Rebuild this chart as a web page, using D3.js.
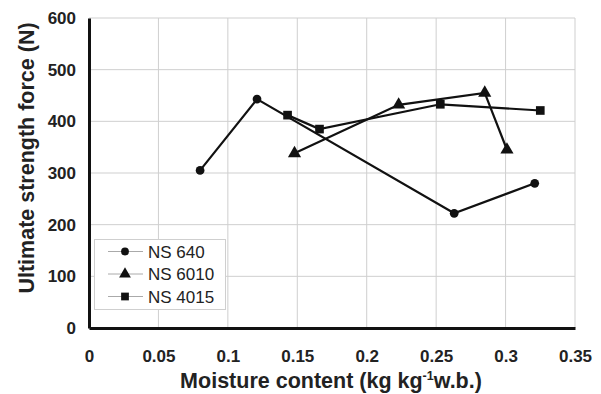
<!DOCTYPE html>
<html><head><meta charset="utf-8">
<script src="https://cdn.jsdelivr.net/npm/d3@7"></script>
<style>body{margin:0;background:#fff}svg{display:block;font-family:"Liberation Sans",Arial,sans-serif}</style>
</head><body><svg id="c" width="601" height="394"></svg>
<script>
const seriesNames = ["NS 640", "NS 6010", "NS 4015"];
const ns640X = [0.080, 0.121, 0.263, 0.321];
const ns640Y = [305, 443, 222, 280];
const ns6010X = [0.148, 0.223, 0.285, 0.301];
const ns6010Y = [338, 432, 455, 345];
const ns4015X = [0.143, 0.166, 0.253, 0.325];
const ns4015Y = [412, 385, 433, 421];
const xTicks = [0, 0.05, 0.1, 0.15, 0.2, 0.25, 0.3, 0.35];
const yTicks = [0, 100, 200, 300, 400, 500, 600];

const svg = d3.select("#c");
const L = 89, R = 575, T = 18, B = 328;
const x = d3.scaleLinear().domain([0, 0.35]).range([L, R]);
const y = d3.scaleLinear().domain([0, 600]).range([B, T]);

// gridlines
svg.append("g").selectAll("line").data(xTicks.slice(1)).join("line")
  .attr("x1", d => x(d)).attr("x2", d => x(d)).attr("y1", T).attr("y2", B)
  .attr("stroke", "#cfcfcf").attr("stroke-width", 1);
svg.append("g").selectAll("line").data(yTicks.slice(1)).join("line")
  .attr("x1", L).attr("x2", R).attr("y1", d => y(d)).attr("y2", d => y(d))
  .attr("stroke", "#cfcfcf").attr("stroke-width", 1);

// axes
const xAxis = d3.axisBottom(x).tickValues(xTicks).tickSize(0).tickPadding(22)
  .tickFormat(d => d3.format("~g")(d));
const gx = svg.append("g").attr("transform", `translate(0,${B})`).call(xAxis);
gx.select(".domain").attr("stroke", "#111").attr("stroke-width", 3);
gx.selectAll("text").attr("font-size", 17).attr("font-weight", "bold").attr("fill", "#222")
  .attr("font-family", "Liberation Sans, Arial, sans-serif");

const yAxis = d3.axisLeft(y).tickValues(yTicks).tickSize(0).tickPadding(13);
const gy = svg.append("g").attr("transform", `translate(${L},0)`).call(yAxis);
gy.select(".domain").attr("stroke", "#111").attr("stroke-width", 3);
gy.selectAll("text").attr("font-size", 17).attr("font-weight", "bold").attr("fill", "#222")
  .attr("font-family", "Liberation Sans, Arial, sans-serif");

// series
const series = [
  {name: seriesNames[0], xs: ns640X, ys: ns640Y, sym: d3.symbolCircle, size: 60},
  {name: seriesNames[1], xs: ns6010X, ys: ns6010Y, sym: d3.symbolTriangle, size: 75},
  {name: seriesNames[2], xs: ns4015X, ys: ns4015Y, sym: d3.symbolSquare, size: 75}
];
const line = d3.line().x(d => x(d[0])).y(d => y(d[1]));
series.forEach(s => {
  const pts = s.xs.map((v, i) => [v, s.ys[i]]);
  svg.append("path").datum(pts).attr("d", line).attr("fill", "none")
    .attr("stroke", "#111").attr("stroke-width", 2.2);
  svg.append("g").selectAll("path").data(pts).join("path")
    .attr("transform", d => `translate(${x(d[0])},${y(d[1])})`)
    .attr("d", d3.symbol().type(s.sym).size(s.size)).attr("fill", "#111");
});

// legend
const lg = svg.append("g");
lg.append("rect").attr("x", 94.5).attr("y", 239.5).attr("width", 131).attr("height", 70)
  .attr("fill", "#fff").attr("stroke", "#cfcfcf");
series.forEach((s, i) => {
  const yy = 251.5 + i * 22.5;
  lg.append("line").attr("x1", 108).attr("x2", 143).attr("y1", yy).attr("y2", yy)
    .attr("stroke", "#aaa").attr("stroke-width", 1);
  lg.append("path").attr("transform", `translate(125,${yy})`)
    .attr("d", d3.symbol().type(s.sym).size(s.size * 0.8)).attr("fill", "#111");
  lg.append("text").attr("x", 148).attr("y", yy + 6).attr("font-size", 17)
    .attr("fill", "#222").text(s.name);
});

// axis titles
svg.append("text").attr("transform", `translate(34,158) rotate(-90)`)
  .attr("text-anchor", "middle").attr("font-size", 21.5).attr("font-weight", "bold")
  .attr("fill", "#222").text("Ultimate strength force (N)");
const xt = svg.append("text").attr("x", 331).attr("y", 388).attr("text-anchor", "middle")
  .attr("font-size", 21.5).attr("font-weight", "bold").attr("fill", "#222");
xt.append("tspan").text("Moisture content (kg kg");
xt.append("tspan").attr("dy", -8).attr("font-size", 12.5).text("-1");
xt.append("tspan").attr("dy", 8).text("w.b.)");
</script></body></html>
